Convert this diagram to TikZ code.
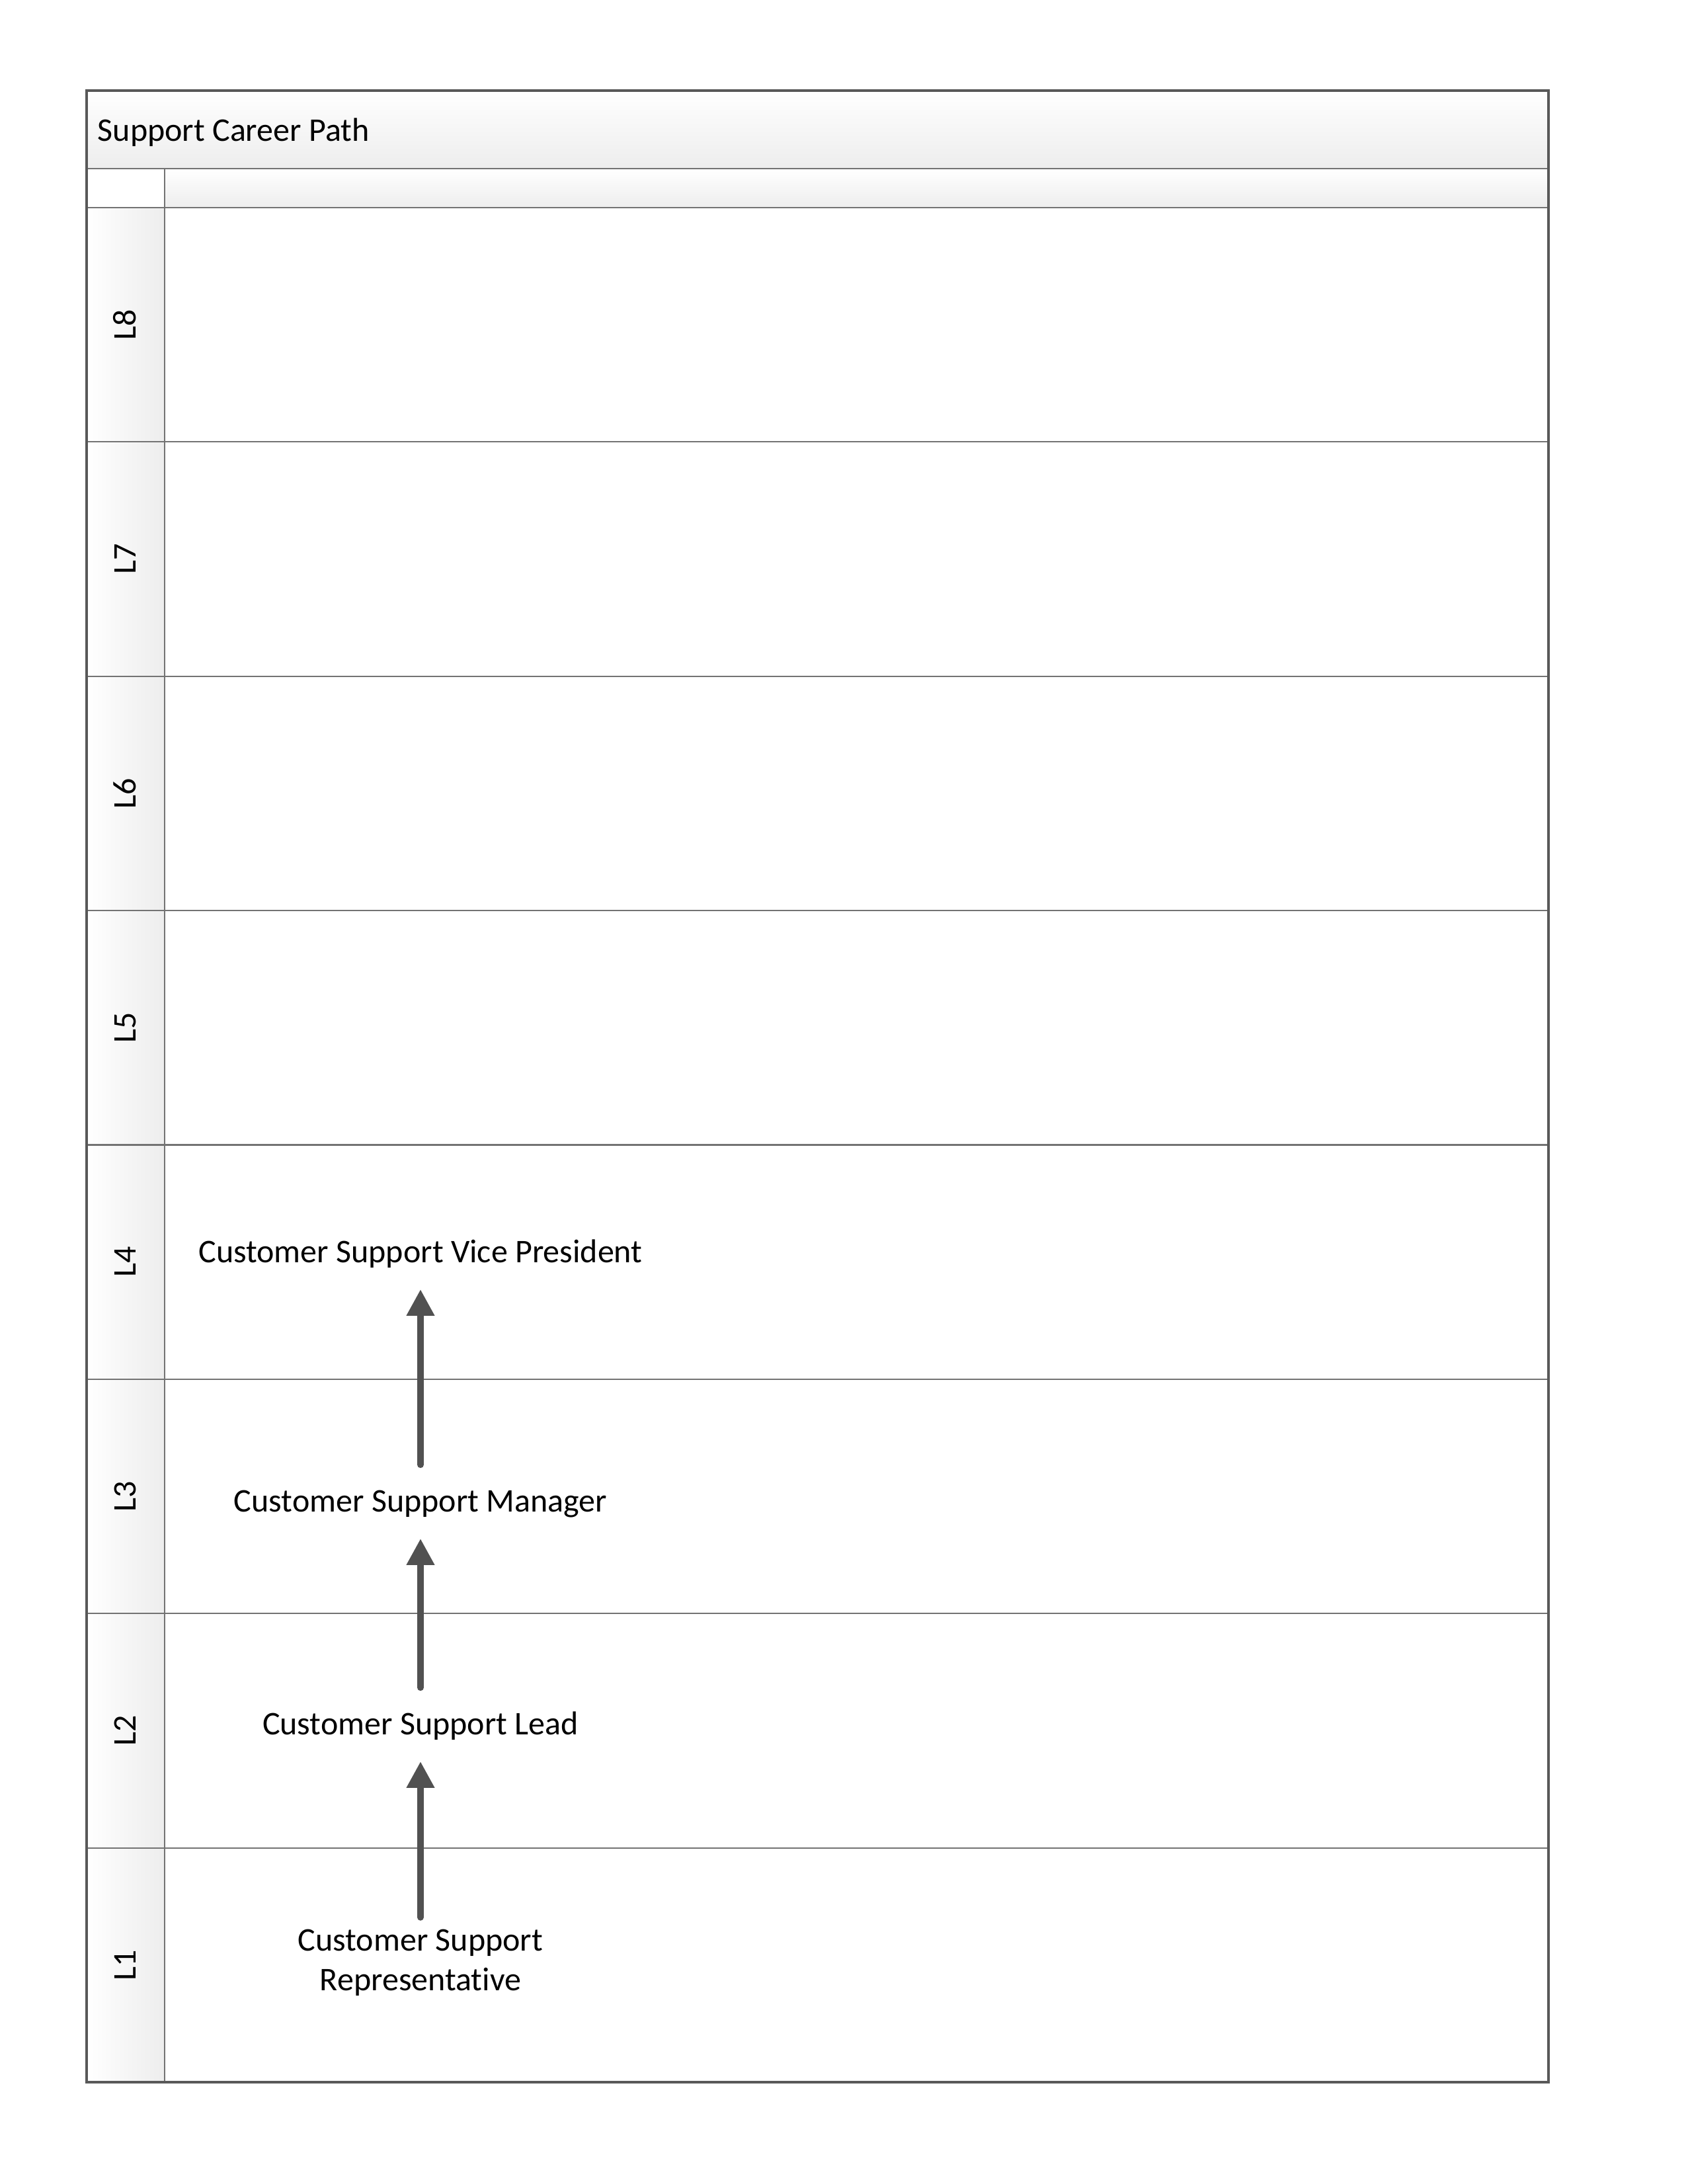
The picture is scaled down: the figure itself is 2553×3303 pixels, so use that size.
\documentclass[tikz,border=0pt]{standalone}
\usepackage{fontspec}
\setmainfont{Carlito}[Ligatures=NoCommon]
\usetikzlibrary{arrows.meta}

\definecolor{framegray}{HTML}{595959}
\definecolor{rulegray}{HTML}{737373}
\definecolor{shadegray}{HTML}{EDEDED}
\definecolor{arrowgray}{HTML}{515151}

\tikzset{
  frameline/.style={draw=framegray, line width=0.8pt},
  ruleline/.style={draw=rulegray, line width=0.5pt},
  bodyfont/.style={font=\fontsize{12}{14.4}\selectfont},
  lanelabel/.style={bodyfont, rotate=90, inner sep=0pt, text height=7.6pt, text depth=0pt},
  stepbase/.style={bodyfont, inner sep=0pt, minimum height=26.4pt},
  careerstep/.style={stepbase, text height=7.6pt, text depth=0pt},
  promote/.style={draw=arrowgray, line width=2.4pt, line cap=round,
    -{Triangle[width=9.6pt,length=9.6pt]}},
}

\begin{document}
\begin{tikzpicture}[x=0.24pt, y=-0.24pt]
\useasboundingbox (0,0) rectangle (2553,3303);

% shaded bands: title, column header, lane label column
\shade[top color=white, bottom color=shadegray] (131,137) rectangle (2342,255);
\shade[top color=white, bottom color=shadegray] (249,255) rectangle (2342,314);
\foreach \i in {0,...,7}
  \shade[left color=white, right color=shadegray]
    (131,{314+354.375*\i}) rectangle (249,{314+354.375*(\i+1)});

% lane separators
\foreach \i in {1,...,7}
  \draw[ruleline] (131,{314+354.375*\i}) -- (2342,{314+354.375*\i});
\draw[ruleline] (131,314) -- (2342,314);
\draw[ruleline] (249,255) -- (249,3149);
\draw[ruleline] (131,255) -- (2342,255);

% outer frame
\draw[frameline] (131,137) rectangle (2342,3149);

% title
\node[bodyfont, anchor=west, inner sep=0pt, text height=7.6pt, text depth=0pt]
  (title) at (147,198) {Support Career Path};

% lane labels
\foreach \n [count=\k from 0] in {8,7,6,5,4,3,2,1}
  \node[lanelabel] (lane\n) at (190,{314+354.375*(\k+0.5)}) {L\n};

% career steps
\node[careerstep] (vp)   at (636,1894) {Customer Support Vice President};
\node[careerstep] (mgr)  at (636,2271) {Customer Support Manager};
\node[careerstep] (lead) at (636,2608) {Customer Support Lead};
\node[stepbase, align=center] (rep) at (636,2968) {Customer Support\\Representative};

% promotions
\draw[promote, shorten <=3pt] (rep.north) -- (lead.south);
\draw[promote] (lead.north) -- (mgr.south);
\draw[promote] (mgr.north)  -- (vp.south);
\end{tikzpicture}
\end{document}
